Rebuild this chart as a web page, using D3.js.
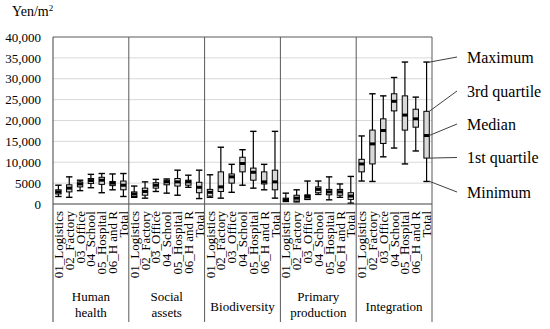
<!DOCTYPE html>
<html><head><meta charset="utf-8">
<script src="https://cdn.jsdelivr.net/npm/d3@7"></script>
<style>
body{margin:0;background:#fff} svg{display:block}
svg text{font-family:"Liberation Serif","Times New Roman","DejaVu Serif",serif;}
</style>
</head><body><svg id="c" width="550" height="329"></svg>
<script>
const groups = ["Human health","Social assets","Biodiversity","Primary production","Integration"];
const groupLabelLines = [["Human","health"],["Social","assets"],["Biodiversity"],["Primary","production"],["Integration"]];
const categories = ["01_Logistics","02_Factory","03_Office","04_School","05_Hospital","06_H and R","Total"];
// each row: [minimum, 1st quartile, median, 3rd quartile, maximum] (Yen/m2)
const humanHealth = [[1800,2400,2900,3400,4500],[1600,2900,3800,4600,6500],[3200,4100,4800,5300,5700],[3900,4900,5600,6100,7100],[2700,4700,5700,6400,7300],[3400,4400,5000,5400,7200],[1800,3400,4500,5500,7300]];
const socialAssets = [[1600,1800,2400,2900,4300],[1400,2100,3000,3800,5300],[3000,3800,4500,5100,5900],[2600,4600,5300,5700,6000],[2100,4300,5300,6100,8100],[4000,4500,5300,5700,6900],[1300,2700,4000,5200,8100]];
const biodiversity = [[1600,1900,2800,3500,7000],[1400,3000,4100,7700,13600],[2800,5000,6500,7200,9500],[4500,7700,9700,11200,13000],[3800,5700,7600,8600,17400],[3400,4800,5300,7700,9500],[1400,3400,5300,8100,17400]];
const primaryProduction = [[600,800,1000,1400,2600],[500,700,1400,2100,3400],[1100,1200,1800,2200,5500],[2300,2700,3500,4100,5500],[1000,2200,2900,3500,6500],[1600,2100,2900,3500,4800],[200,1100,1900,2700,6600]];
const integration = [[5500,7700,9600,10700,16300],[5400,9600,14400,17700,26400],[11300,14500,17600,20400,25900],[13400,22300,24600,26400,30300],[9600,17700,21300,25900,34000],[12700,18400,20400,22700,25600],[5400,11000,16400,22200,34000]];
const seriesByGroup = [humanHealth, socialAssets, biodiversity, primaryProduction, integration];
const yTickValues = [0,5000,10000,15000,20000,25000,30000,35000,40000];
const yTickLabels = ["0","5000","10,000","15,000","20,000","25,000","30,000","35,000","40,000"];
const legendLabels = ["Maximum","3rd quartile","Median","1st quartile","Minimum"];

const L = 53, R = 432, T = 37, B = 204, EXT = 322;
const svg = d3.select("#c");

const outer = d3.scaleBand().domain(groups).range([L, R]).padding(0);
const inner = d3.scaleBand().domain(categories).range([0, outer.bandwidth()]).padding(0);
const y = d3.scaleLinear().domain([0, 40000]).range([B, T]);

// gridlines
svg.append("g").selectAll("line").data(yTickValues.filter(v => v > 0 && v < 40000)).join("line")
  .attr("x1", L).attr("x2", R).attr("y1", d => y(d)).attr("y2", d => y(d))
  .attr("stroke", "#d9d9d9").attr("stroke-width", 1);

// y axis
const ya = svg.append("g").attr("transform", `translate(${L},0)`)
  .call(d3.axisLeft(y).tickValues(yTickValues).tickFormat((d, i) => yTickLabels[i]).tickSize(0).tickPadding(12));
ya.select(".domain").remove();
ya.attr("font-family", null);
ya.selectAll("text").style("font-size", "13px").attr("fill", "#000");

// unit label
const unit = svg.append("text").attr("x", 12).attr("y", 16).style("font-size", "14px").attr("fill", "#000").text("Yen/m");
unit.append("tspan").attr("dy", -5).style("font-size", "9px").text("2");

// boxes
const boxW = 5.4, capW = 6.4;
groups.forEach((g, gi) => {
  const gg = svg.append("g");
  seriesByGroup[gi].forEach((s, ci) => {
    const cx = outer(g) + inner(categories[ci]) + inner.bandwidth() / 2;
    const [mn, q1, md, q3, mx] = s;
    gg.append("line").attr("x1", cx).attr("x2", cx).attr("y1", y(mn)).attr("y2", y(mx)).attr("stroke", "#000").attr("stroke-width", 1.2);
    [mn, mx].forEach(v => gg.append("line").attr("x1", cx - capW / 2).attr("x2", cx + capW / 2).attr("y1", y(v)).attr("y2", y(v)).attr("stroke", "#000").attr("stroke-width", 1.4));
    gg.append("rect").attr("x", cx - boxW / 2).attr("width", boxW).attr("y", y(q3)).attr("height", y(q1) - y(q3))
      .attr("fill", "#d9d9d9").attr("stroke", "#000").attr("stroke-width", 1);
    gg.append("rect").attr("x", cx - boxW / 2).attr("width", boxW).attr("y", y(md) - 1.5).attr("height", 3).attr("fill", "#000");
  });

  // category labels
  const xa = svg.append("g").attr("transform", `translate(${outer(g)},${B})`)
    .call(d3.axisBottom(inner).tickSize(0));
  xa.select(".domain").remove();
  xa.attr("font-family", null);
  xa.selectAll("text").style("font-size", "13px").attr("fill", "#000")
    .attr("transform", "rotate(-90)").attr("x", -7).attr("y", 0).attr("dy", "0.35em").style("text-anchor", "end");

  // group label
  const lines = groupLabelLines[gi];
  const cxg = outer(g) + outer.bandwidth() / 2;
  const t = svg.append("text").attr("text-anchor", "middle").style("font-size", "13px").attr("fill", "#000");
  if (lines.length === 1) {
    t.append("tspan").attr("x", cxg).attr("y", 311).text(lines[0]);
  } else {
    t.append("tspan").attr("x", cxg).attr("y", 301).text(lines[0]);
    t.append("tspan").attr("x", cxg).attr("y", 317).text(lines[1]);
  }
});

// frame and dividers
svg.append("line").attr("x1", L).attr("x2", R).attr("y1", T).attr("y2", T).attr("stroke", "#595959");
svg.append("line").attr("x1", L).attr("x2", R).attr("y1", B).attr("y2", B).attr("stroke", "#404040");
const divX = groups.map(g => outer(g)).concat([R]);
svg.append("g").selectAll("line").data(divX).join("line")
  .attr("x1", d => d).attr("x2", d => d).attr("y1", T).attr("y2", EXT)
  .attr("stroke", (d, i) => i === 0 ? "#404040" : "#595959").attr("stroke-width", 1);

// legend leaders
const tot = integration[integration.length - 1];
const tcx = outer(groups[4]) + inner(categories[6]) + inner.bandwidth() / 2;
const legendY = [57, 91, 124, 157.5, 192];
const leaderFrom = [
  [tcx + capW / 2, y(tot[4])],
  [tcx + boxW / 2, y(tot[3])],
  [tcx + boxW / 2, y(tot[2])],
  [tcx + boxW / 2, y(tot[1])],
  [tcx + capW / 2, y(tot[0])]
];
legendLabels.forEach((lab, i) => {
  svg.append("line").attr("x1", leaderFrom[i][0]).attr("y1", leaderFrom[i][1]).attr("x2", 457).attr("y2", legendY[i])
    .attr("stroke", "#404040").attr("stroke-width", 1);
  svg.append("text").attr("x", 467).attr("y", legendY[i]).attr("dy", "0.35em")
    .style("font-size", "16px").attr("fill", "#000").text(lab);
});
</script></body></html>
